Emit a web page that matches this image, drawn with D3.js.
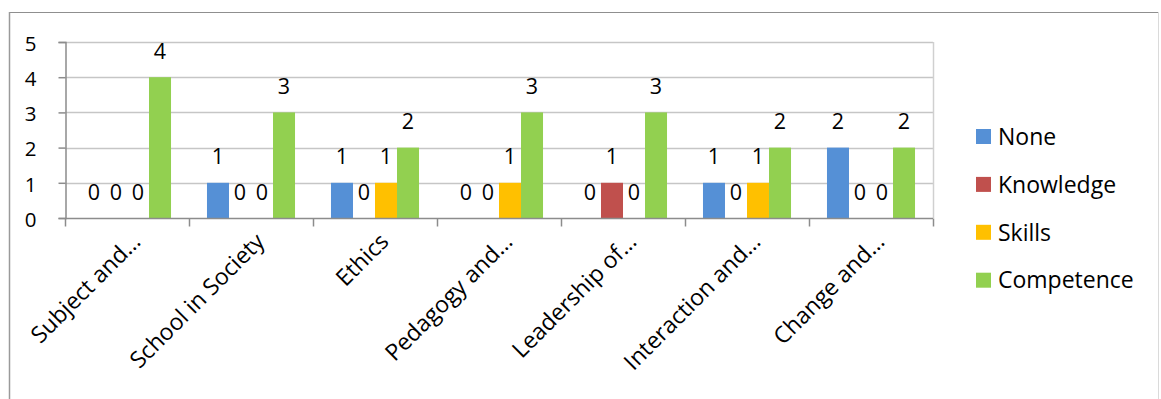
<!DOCTYPE html>
<html>
<head>
<meta charset="utf-8">
<script src="https://cdn.jsdelivr.net/npm/d3@7"></script>
<style>
  html, body { margin: 0; padding: 0; background: #fff; }
  svg { display: block; font-family: "Open Sans", Lato, sans-serif; }
</style>
</head>
<body>
<svg id="chart" width="1161" height="399"></svg>
<script>
// Competence areas along the x axis (labels as shown, shortened)
const categories = ["Subject and…", "School in Society", "Ethics", "Pedagogy and…",
                    "Leadership of…", "Interaction and…", "Change and…"];
const seriesNames = ["None", "Knowledge", "Skills", "Competence"];
const noneValues       = [0, 1, 1, 0, 0, 1, 2];
const knowledgeValues  = [0, 0, 0, 0, 1, 0, 0];
const skillsValues     = [0, 0, 1, 1, 0, 1, 0];
const competenceValues = [4, 3, 2, 3, 3, 2, 2];
const yTicks = [0, 1, 2, 3, 4, 5];
const colors = ["#5590D6", "#C0504D", "#FFC000", "#92D050"];

const seriesValues = [noneValues, knowledgeValues, skillsValues, competenceValues];

const svg = d3.select("#chart");
const plot = { left: 65, right: 933, top: 42, bottom: 218 };
const FONT = "'Open Sans', Lato, sans-serif";

// outer frame: top and left darker, right edge faint
svg.append("line").attr("x1", 9).attr("x2", 1159).attr("y1", 12.5).attr("y2", 12.5)
  .attr("stroke", "#8f8f8f").attr("stroke-width", 1.2);
svg.append("line").attr("x1", 9.5).attr("x2", 9.5).attr("y1", 12).attr("y2", 399)
  .attr("stroke", "#9a9a9a").attr("stroke-width", 1.5);
svg.append("line").attr("x1", 1158.5).attr("x2", 1158.5).attr("y1", 12).attr("y2", 399)
  .attr("stroke", "#dadada").attr("stroke-width", 1);

const x0 = d3.scaleBand().domain(categories).range([plot.left, plot.right]).padding(0);
const gap = x0.bandwidth() * 0.29;
const x1 = d3.scaleBand().domain(seriesNames).range([gap / 2, x0.bandwidth() - gap / 2]).padding(0);
const y = d3.scaleLinear().domain([0, 5]).range([plot.bottom, plot.top]);

// horizontal gridlines
svg.append("g").selectAll("line").data(yTicks.filter(t => t > 0)).join("line")
  .attr("x1", plot.left).attr("x2", plot.right)
  .attr("y1", d => Math.round(y(d)) + 0.5).attr("y2", d => Math.round(y(d)) + 0.5)
  .attr("stroke", "#c6c6c6").attr("stroke-width", 1.5);
// right edge of plot area
svg.append("line")
  .attr("x1", plot.right + 0.5).attr("x2", plot.right + 0.5)
  .attr("y1", plot.top).attr("y2", plot.bottom)
  .attr("stroke", "#d0d0d0").attr("stroke-width", 1.5);

// bars with value labels
const groups = svg.append("g").selectAll("g").data(categories).join("g")
  .attr("transform", c => `translate(${x0(c)},0)`);

seriesNames.forEach((s, si) => {
  groups.append("rect")
    .attr("x", x1(s))
    .attr("y", (c, i) => y(seriesValues[si][i]))
    .attr("width", x1.bandwidth())
    .attr("height", (c, i) => y(0) - y(seriesValues[si][i]))
    .attr("fill", colors[si]);
  groups.append("text")
    .attr("x", x1(s) + x1.bandwidth() / 2)
    .attr("y", (c, i) => y(seriesValues[si][i]) - 26)
    .attr("dy", "0.357em")
    .attr("text-anchor", "middle")
    .attr("font-size", 21.5)
    .attr("fill", "#000")
    .text((c, i) => seriesValues[si][i]);
});

// y axis
const yAxis = d3.axisLeft(y).tickValues(yTicks).tickSize(7).tickPadding(22).tickFormat(d3.format("d"));
const gy = svg.append("g").attr("transform", `translate(${plot.left + 0.5},0)`).call(yAxis);
gy.select(".domain").attr("stroke", "#8c8c8c").attr("stroke-width", 1.5);
gy.selectAll(".tick line").attr("stroke", "#8c8c8c").attr("stroke-width", 1.5);
gy.selectAll(".tick text").attr("font-size", 20.5).attr("fill", "#000")
  .attr("font-family", FONT).attr("dy", "0.4em");

// x axis with ticks at category boundaries
const gx = svg.append("g").attr("transform", `translate(0,${plot.bottom + 0.5})`);
gx.append("line").attr("x1", plot.left).attr("x2", plot.right)
  .attr("stroke", "#8c8c8c").attr("stroke-width", 1.5);
const boundaries = categories.map(c => x0(c)).concat([plot.right]);
gx.selectAll("line.tick").data(boundaries).join("line").attr("class", "tick")
  .attr("x1", d => Math.round(d) + 0.5).attr("x2", d => Math.round(d) + 0.5)
  .attr("y1", 0).attr("y2", 8)
  .attr("stroke", "#8c8c8c").attr("stroke-width", 1.5);
gx.selectAll("text").data(categories).join("text")
  .attr("transform", c => `translate(${x0(c) + x0.bandwidth() / 2 + 15},${24.5}) rotate(-45)`)
  .attr("text-anchor", "end")
  .attr("font-size", 23)
  .attr("fill", "#000")
  .text(c => c);

// legend
const legend = svg.append("g").selectAll("g").data(seriesNames).join("g")
  .attr("transform", (s, i) => `translate(976,${136.5 + i * 47.9})`);
legend.append("rect").attr("x", 0).attr("y", -7.5).attr("width", 15).attr("height", 15)
  .attr("fill", (s, i) => colors[i]);
legend.append("text").attr("x", 22).attr("dy", "0.357em")
  .attr("font-size", 23).attr("fill", "#000").text(s => s);
</script>
</body>
</html>
